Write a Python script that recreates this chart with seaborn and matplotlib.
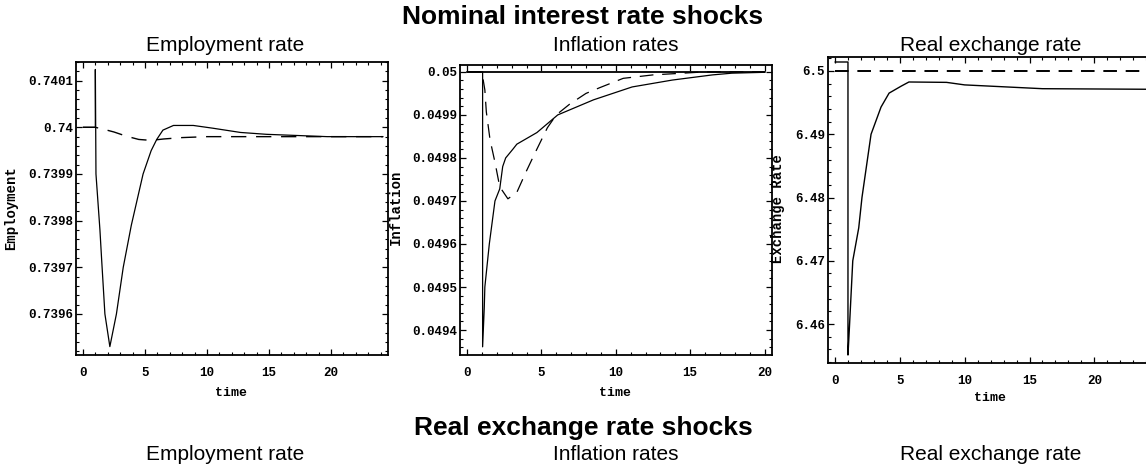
import numpy as np
import pandas as pd
import matplotlib
matplotlib.use("Agg")
import matplotlib.pyplot as plt
from matplotlib.ticker import AutoMinorLocator, FixedLocator
import seaborn as sns

# ---------------- data ----------------
# Employment rate (nominal interest rate shock)
emp_solid_t = [0, 1.0, 1.0, 1.05, 1.37, 1.5, 1.77, 2.17, 2.7, 3.25, 3.9, 4.85, 5.5, 5.95, 6.45,
               7.3, 8.9, 10.5, 12.7, 14.8, 19.7, 24.2]
emp_solid_v = [0.74, 0.74, 0.740124, 0.7399, 0.73978, 0.73972, 0.7396, 0.73953, 0.7396, 0.7397,
               0.73979, 0.7399, 0.73995, 0.739974, 0.739994,
               0.740004, 0.740004, 0.739998, 0.739989, 0.739985, 0.73998, 0.73998]
emp_dash_t = [0, 1.0, 1.5, 2.5, 3.5, 4.5, 5.5, 6.5, 8.0, 10.0, 15.0, 20.0, 24.2]
emp_dash_v = [0.74, 0.74, 0.739997, 0.73999, 0.739981, 0.739974, 0.739972, 0.739975,
              0.739978, 0.73998, 0.73998, 0.73998, 0.73998]

# Inflation rates
inf_solid_t = [0, 1.05, 1.05, 1.16, 1.2, 1.5, 1.88, 2.2, 2.4, 2.6, 3.1, 3.35, 4.7, 6.1, 8.5,
               11.1, 13.8, 16.5, 17.8, 20.0]
inf_solid_v = [0.05, 0.05, 0.049361, 0.049451, 0.0495, 0.0496, 0.0497, 0.049728, 0.04978,
               0.0498, 0.049821, 0.049832, 0.049859, 0.0499, 0.049935,
               0.049965, 0.049981, 0.049993, 0.049997, 0.049999]
inf_dash_t = [0, 1.0, 1.2, 1.3, 1.55, 1.88, 2.2, 2.75, 3.35, 4.0, 4.55, 5.4, 6.0, 6.9, 8.0,
              8.9, 10.5, 12.5, 16.0, 20.0]
inf_dash_v = [0.05, 0.05, 0.049958, 0.049907, 0.049842, 0.04979, 0.049733, 0.049705, 0.04972,
              0.04977, 0.04981, 0.04987, 0.0499, 0.049925, 0.04995,
              0.049963, 0.049985, 0.049993, 0.05, 0.05]
inf_target_t = [0, 20.0]
inf_target_v = [0.05, 0.05]

# Real exchange rate
rer_solid_t = [0, 1.0, 1.0, 1.1, 1.37, 1.83, 2.08, 2.78, 3.55, 4.17, 5.1, 5.7, 8.6, 10.0,
               13.0, 16.0, 25.0]
rer_solid_v = [6.50142, 6.50142, 6.4551, 6.459, 6.47, 6.4752, 6.48, 6.49, 6.4943, 6.4965,
               6.4976, 6.49826, 6.4982, 6.4978, 6.4975, 6.4972, 6.4971]
rer_dash_t = [0, 25.0]
rer_dash_v = [6.5, 6.5]

# tick labels
time_ticks = [0, 5, 10, 15, 20]
emp_yticks = [0.7396, 0.7397, 0.7398, 0.7399, 0.74, 0.7401]
emp_ylabels = ["0.7396", "0.7397", "0.7398", "0.7399", "0.74", "0.7401"]
inf_yticks = [0.0494, 0.0495, 0.0496, 0.0497, 0.0498, 0.0499, 0.05]
inf_ylabels = ["0.0494", "0.0495", "0.0496", "0.0497", "0.0498", "0.0499", "0.05"]
rer_yticks = [6.46, 6.47, 6.48, 6.49, 6.5]
rer_ylabels = ["6.46", "6.47", "6.48", "6.49", "6.5"]

panel_titles = ["Employment rate", "Inflation rates", "Real exchange rate"]
y_names = ["Employment", "Inflation", "Exchange Rate"]
section_titles = ["Nominal interest rate shocks", "Real exchange rate shocks"]

# ---------------- styling ----------------
sns.set_theme(style="ticks")
plt.rcParams["font.family"] = ["Liberation Sans", "DejaVu Sans"]
plt.rcParams["text.color"] = "black"
plt.rcParams["axes.labelcolor"] = "black"
MONO = ["Liberation Mono", "DejaVu Sans Mono"]

W, H = 1146, 467
fig = plt.figure(figsize=(W / 100, H / 100), dpi=100)
fig.patch.set_facecolor("white")

ax1 = fig.add_axes([76 / W, 1 - 355 / H, 312 / W, 293 / H])
ax2 = fig.add_axes([460 / W, 1 - 355 / H, 312 / W, 290 / H])
ax3 = fig.add_axes([828 / W, 1 - 363 / H, 326 / W, 306 / H])

DASH = (0, (11, 7))

def draw(ax, t, v, ls="-", lw=0.9):
    df = pd.DataFrame({"t": t, "v": v})
    sns.lineplot(data=df, x="t", y="v", ax=ax, color="black", linewidth=lw,
                 linestyle=ls, estimator=None, sort=False)

draw(ax1, emp_dash_t, emp_dash_v, DASH, 1.0)
draw(ax1, emp_solid_t, emp_solid_v, "-", 0.9)

draw(ax2, inf_target_t, inf_target_v, "-", 1.3)
draw(ax2, inf_dash_t, inf_dash_v, DASH, 0.9)
draw(ax2, inf_solid_t, inf_solid_v, "-", 0.9)

draw(ax3, rer_dash_t, rer_dash_v, (0, (7, 4.5)), 1.4)
draw(ax3, rer_solid_t, rer_solid_v, "-", 1.0)

cfg = [
    (ax1, (-0.56, 24.6), (0.739512, 0.74014), emp_yticks, emp_ylabels, -0.186, 0.5, -0.109),
    (ax2, (-0.47, 20.5), (0.049342, 0.050016), inf_yticks, inf_ylabels, -0.182, 0.51, -0.110),
    (ax3, (-0.54, 24.6), (6.45384, 6.50221), rer_yticks, rer_ylabels, -0.132, 0.506, -0.095),
]
for i, (ax, xl, yl, yt, ytl, ylx, yly, xly) in enumerate(cfg):
    ax.set_facecolor("white")
    ax.set_xlim(*xl)
    ax.set_ylim(*yl)
    ax.xaxis.set_major_locator(FixedLocator(time_ticks))
    ax.set_xticklabels([str(x) for x in time_ticks], fontfamily=MONO, fontweight="bold", fontsize=9)
    ax.yaxis.set_major_locator(FixedLocator(yt))
    ax.set_yticklabels(ytl, fontfamily=MONO, fontweight="bold", fontsize=9)
    ax.xaxis.set_minor_locator(AutoMinorLocator(5))
    ax.yaxis.set_minor_locator(AutoMinorLocator(5))
    ax.tick_params(which="both", direction="in", top=True, right=True, color="black",
                   labelcolor="black")
    ax.tick_params(which="major", length=4.5, width=0.9)
    ax.tick_params(which="minor", length=2.5, width=0.8)
    ax.tick_params(axis="x", which="major", pad=9)
    ax.tick_params(axis="y", which="major", pad=2)
    for s in ax.spines.values():
        s.set_color("black")
        s.set_linewidth(1.3)
    ax.set_ylabel(y_names[i], fontfamily=MONO, fontweight="bold", fontsize=10, color="black")
    ax.yaxis.set_label_coords(ylx, yly)
    ax.set_xlabel("time", fontfamily=MONO, fontweight="bold", fontsize=9.5, color="black")
    ax.xaxis.set_label_coords(0.497, xly)
    ax.grid(False)

# titles
fig.text(583 / W, 1 - 17 / H, section_titles[0], ha="center", va="center",
         fontsize=19, fontweight="bold", color="black")
fig.text(583 / W, 1 - 428 / H, section_titles[1], ha="center", va="center",
         fontsize=19, fontweight="bold", color="black")
sub_x = [225, 616, 991]
for x, t in zip(sub_x, panel_titles):
    fig.text(x / W, 1 - 45 / H, t, ha="center", va="center", fontsize=15, color="black")
    fig.text(x / W, 1 - 454 / H, t, ha="center", va="center", fontsize=15, color="black")

fig.savefig("out.png", dpi=100, facecolor="white")
